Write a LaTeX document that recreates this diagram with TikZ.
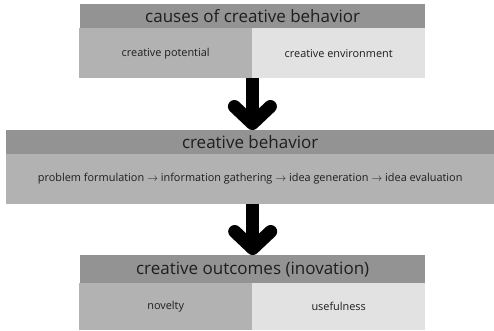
\documentclass[tikz,border=0pt]{standalone}
\usepackage{fontspec}
\setmainfont{Open Sans}
\usetikzlibrary{arrows.meta,positioning}
\definecolor{headgray}{HTML}{939393}
\definecolor{midgray}{HTML}{B2B2B2}
\definecolor{lightgray}{HTML}{E2E2E2}
\definecolor{inkgray}{HTML}{1E1E1E}
\tikzset{%
	headbar/.style  = {fill=headgray, anchor=north west, inner sep=0pt, minimum height=24pt, text=inkgray, font=\fontsize{17}{19}\selectfont},
	cell/.style     = {anchor=north west, inner sep=0pt, minimum height=50pt, text=inkgray, font=\fontsize{10.9}{12}\selectfont},
	bigarrow/.style = {line width=13pt, -{Straight Barb[round,length=17pt,width=36pt]}},
}
\begin{document}
\begin{tikzpicture}[x=1pt,y=-1pt]
			\useasboundingbox (0,0) rectangle (494,330);
			% causes
			\node[headbar, minimum width=345pt] (causes) at (80,4) {causes of creative behavior};
			\node[cell, fill=midgray, minimum width=173pt] (potential) at (79,28) {creative potential};
			\node[cell, fill=lightgray, minimum width=173pt] (environment) at (252,28) {creative environment};
			% behavior
			\node[headbar, minimum width=488pt] (behavior) at (6,130) {creative behavior};
			\node[cell, fill=midgray, minimum width=488pt] (process) at (6,153.5) {problem formulation $\rightarrow$ information gathering $\rightarrow$ idea generation $\rightarrow$ idea evaluation};
			% outcomes
			\node[headbar, minimum width=345pt, minimum height=28pt] (outcomes) at (80,255) {creative outcomes (inovation)};
			\node[cell, fill=midgray, minimum width=173pt, minimum height=47pt] (novelty) at (79,283) {novelty};
			\node[cell, fill=lightgray, minimum width=173pt, minimum height=47pt] (usefulness) at (252,283) {usefulness};
			% arrows
			\draw[bigarrow] (potential.south east) -- (potential.south east |- behavior.north);
			\draw[bigarrow] (process.south -| outcomes.north) -- (outcomes.north);
			\end{tikzpicture}
\end{document}
